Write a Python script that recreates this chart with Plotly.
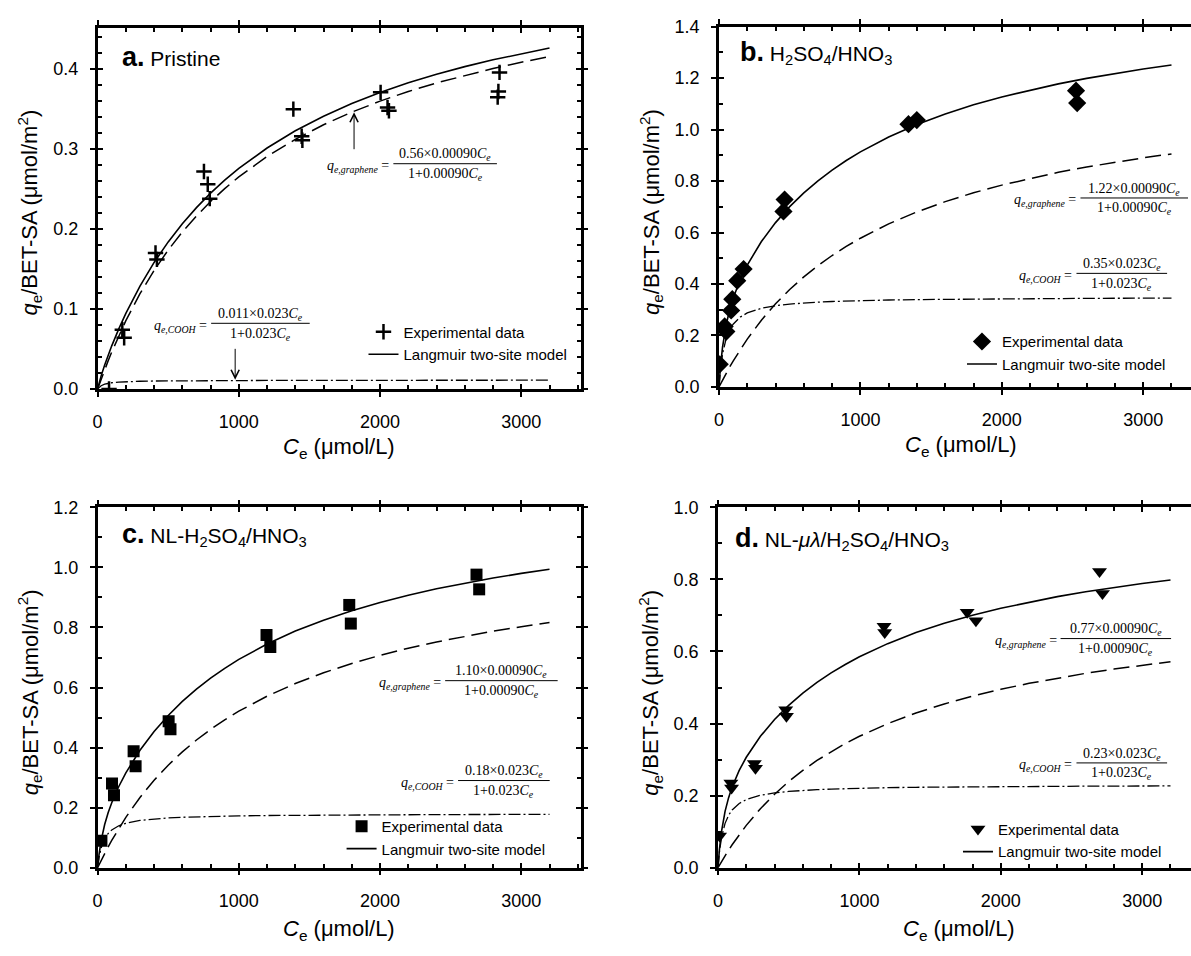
import plotly.graph_objects as go

# ---------------- data ----------------
conc_model = [0, 5, 10, 25, 50, 75, 100, 150, 200, 300, 400, 500, 600, 700, 800, 900, 1000, 1200, 1400, 1600, 1800, 2000, 2200, 2400, 2600, 2800, 3000, 3200]

a_graphene = [0, 0.0025, 0.0050, 0.0123, 0.0241, 0.0354, 0.0462, 0.0666, 0.0854, 0.1191, 0.1482, 0.1738, 0.1964, 0.2164, 0.2344, 0.2506, 0.2653, 0.2908, 0.3122, 0.3305, 0.3463, 0.3600, 0.3721, 0.3828, 0.3923, 0.4009, 0.4087, 0.4157]
a_cooh = [0, 0.0011, 0.0021, 0.0040, 0.0059, 0.0070, 0.0077, 0.0085, 0.0090, 0.0096, 0.0099, 0.0101, 0.0103, 0.0104, 0.0104, 0.0105, 0.0105, 0.0106, 0.0107, 0.0107, 0.0107, 0.0108, 0.0108, 0.0108, 0.0108, 0.0108, 0.0108, 0.0109]
a_total = [0, 0.0036, 0.0071, 0.0163, 0.0300, 0.0424, 0.0539, 0.0751, 0.0945, 0.1287, 0.1582, 0.1839, 0.2066, 0.2268, 0.2449, 0.2611, 0.2758, 0.3014, 0.3229, 0.3412, 0.3570, 0.3708, 0.3829, 0.3936, 0.4032, 0.4117, 0.4195, 0.4265]

b_graphene = [0, 0.0055, 0.0109, 0.0268, 0.0525, 0.0771, 0.1007, 0.1451, 0.1861, 0.2594, 0.3230, 0.3786, 0.4278, 0.4715, 0.5107, 0.5460, 0.5779, 0.6335, 0.6802, 0.7200, 0.7544, 0.7843, 0.8106, 0.8339, 0.8547, 0.8734, 0.8903, 0.9056]
b_cooh = [0, 0.0361, 0.0655, 0.1278, 0.1872, 0.2216, 0.2439, 0.2714, 0.2875, 0.3057, 0.3157, 0.3220, 0.3264, 0.3295, 0.3320, 0.3339, 0.3354, 0.3378, 0.3395, 0.3407, 0.3418, 0.3426, 0.3432, 0.3438, 0.3442, 0.3446, 0.3450, 0.3453]
b_total = [0, 0.0416, 0.0763, 0.1546, 0.2397, 0.2987, 0.3447, 0.4165, 0.4736, 0.5651, 0.6386, 0.7006, 0.7541, 0.8010, 0.8427, 0.8799, 0.9133, 0.9712, 1.0196, 1.0607, 1.0961, 1.1269, 1.1538, 1.1777, 1.1990, 1.2180, 1.2353, 1.2509]

c_graphene = [0, 0.0049, 0.0098, 0.0242, 0.0474, 0.0696, 0.0908, 0.1308, 0.1678, 0.2339, 0.2912, 0.3414, 0.3857, 0.4252, 0.4605, 0.4923, 0.5211, 0.5712, 0.6133, 0.6492, 0.6802, 0.7071, 0.7309, 0.7519, 0.7707, 0.7875, 0.8027, 0.8165]
c_cooh = [0, 0.0186, 0.0337, 0.0657, 0.0963, 0.1140, 0.1255, 0.1396, 0.1479, 0.1572, 0.1624, 0.1656, 0.1678, 0.1695, 0.1707, 0.1717, 0.1725, 0.1737, 0.1746, 0.1752, 0.1758, 0.1762, 0.1765, 0.1768, 0.1770, 0.1772, 0.1774, 0.1776]
c_total = [0, 0.0235, 0.0435, 0.0899, 0.1437, 0.1835, 0.2163, 0.2704, 0.3157, 0.3911, 0.4535, 0.5070, 0.5536, 0.5947, 0.6312, 0.6640, 0.6936, 0.7449, 0.7879, 0.8244, 0.8559, 0.8833, 0.9074, 0.9287, 0.9477, 0.9647, 0.9801, 0.9941]

d_graphene = [0, 0.0035, 0.0069, 0.0169, 0.0332, 0.0487, 0.0636, 0.0916, 0.1175, 0.1637, 0.2038, 0.2390, 0.2700, 0.2976, 0.3223, 0.3446, 0.3647, 0.3998, 0.4293, 0.4544, 0.4761, 0.4950, 0.5116, 0.5263, 0.5395, 0.5512, 0.5619, 0.5716]
d_cooh = [0, 0.0237, 0.0430, 0.0840, 0.1230, 0.1456, 0.1603, 0.1783, 0.1889, 0.2009, 0.2075, 0.2116, 0.2145, 0.2165, 0.2181, 0.2194, 0.2204, 0.2220, 0.2231, 0.2239, 0.2246, 0.2251, 0.2255, 0.2259, 0.2262, 0.2265, 0.2267, 0.2269]
d_total = [0, 0.0272, 0.0499, 0.1009, 0.1562, 0.1943, 0.2239, 0.2699, 0.3064, 0.3646, 0.4113, 0.4506, 0.4845, 0.5141, 0.5405, 0.5640, 0.5852, 0.6218, 0.6524, 0.6783, 0.7007, 0.7201, 0.7372, 0.7522, 0.7657, 0.7777, 0.7886, 0.7985]

a_x = [81, 175, 188, 410, 420, 753, 780, 794, 1386, 1445, 1450, 2004, 2053, 2063, 2846, 2838, 2833]
a_y = [0.0, 0.074, 0.064, 0.170, 0.162, 0.272, 0.256, 0.238, 0.350, 0.316, 0.311, 0.371, 0.352, 0.348, 0.396, 0.372, 0.365]

b_x = [5, 40, 52, 86, 94, 129, 174, 456, 464, 1340, 1399, 2525, 2533]
b_y = [0.088, 0.235, 0.215, 0.297, 0.341, 0.413, 0.458, 0.682, 0.728, 1.021, 1.037, 1.151, 1.103]

c_x = [27, 102, 116, 255, 269, 503, 516, 1196, 1223, 1782, 1793, 2683, 2702]
c_y = [0.090, 0.280, 0.241, 0.388, 0.338, 0.488, 0.461, 0.775, 0.735, 0.875, 0.813, 0.976, 0.927]

d_x = [11, 91, 96, 257, 265, 479, 484, 1174, 1179, 1762, 1824, 2698, 2719]
d_y = [0.088, 0.235, 0.221, 0.289, 0.276, 0.438, 0.420, 0.670, 0.653, 0.709, 0.685, 0.822, 0.761]

panel_titles = [
    "<span style='font-size:27px'><b>a.</b></span> Pristine",
    "<span style='font-size:27px'><b>b.</b></span> H<sub>2</sub>SO<sub>4</sub>/HNO<sub>3</sub>",
    "<span style='font-size:27px'><b>c.</b></span> NL-H<sub>2</sub>SO<sub>4</sub>/HNO<sub>3</sub>",
    "<span style='font-size:27px'><b>d.</b></span> NL-<i>μλ</i>/H<sub>2</sub>SO<sub>4</sub>/HNO<sub>3</sub>",
]
graphene_num = ["0.56×0.00090", "1.22×0.00090", "1.10×0.00090", "0.77×0.00090"]
cooh_num = ["0.011×0.023", "0.35×0.023", "0.18×0.023", "0.23×0.023"]
legend_names = ["Experimental data", "Langmuir two-site model"]
x_title = "<i>C</i><sub>e</sub> (μmol/L)"
y_title = "<i>q</i><sub>e</sub>/BET-SA (μmol/m<sup>2</sup>)"

# ---------------- layout geometry (pixels) ----------------
W, H = 1191, 956
def px(x): return x / W
def py(y): return 1 - y / H

SANS = "Liberation Sans, Arial, sans-serif"
SERIF = "Liberation Serif, Times New Roman, serif"

panels = [
    dict(x=a_x, y=a_y, tot=a_total, gr=a_graphene, co=a_cooh, sym="cross-thin", size=11,
         box=(93, 578, 18, 387), xr=3420, yr=0.452, ydt=0.1, ymin=0.02, mirror_y="ticks",
         title_pos=(115, 48), ytitle=(25, 207), xtitle=(335, 447), legend_pos=(360, 312),
         eq_g=(390, 494, 157), eq_c=(207, 306, 320)),
    dict(x=b_x, y=b_y, tot=b_total, gr=b_graphene, co=b_cooh, sym="diamond", size=14,
         box=(717, 1191, 17, 385), xr=3338, yr=1.4, ydt=0.2, ymin=0.1, mirror_y=False,
         title_pos=(736, 43), ytitle=(649, 206), xtitle=(960, 445), legend_pos=(961, 322),
         eq_g=(1080, 1188, 192), eq_c=(1076, 1167, 269)),
    dict(x=c_x, y=c_y, tot=c_total, gr=c_graphene, co=c_cooh, sym="square", size=12,
         box=(93, 578, 508, 876), xr=3420, yr=1.2, ydt=0.2, ymin=0.1, mirror_y="ticks",
         title_pos=(115, 536), ytitle=(25, 697), xtitle=(335, 940), legend_pos=(338, 817),
         eq_g=(442, 555, 685), eq_c=(455, 547, 787)),
    dict(x=d_x, y=d_y, tot=d_total, gr=d_graphene, co=d_cooh, sym="triangle-down", size=13,
         box=(716, 1191, 508, 876), xr=3345, yr=1.0, ydt=0.2, ymin=0.1, mirror_y=False,
         title_pos=(731, 540), ytitle=(648, 697), xtitle=(958, 940), legend_pos=(957, 820),
         eq_g=(1060, 1171, 642), eq_c=(1076, 1167, 769)),
]

fig = go.Figure()
annotations = []
shapes = []
layout = {}

for i, p in enumerate(panels, start=1):
    xa = "x" if i == 1 else f"x{i}"
    ya = "y" if i == 1 else f"y{i}"
    xo, yo = f"x{i+4}", f"y{i+4}"
    lg = "legend" if i == 1 else f"legend{i}"
    l, r, t, b = p["box"]

    # model curves
    fig.add_trace(go.Scatter(x=conc_model, y=p["gr"], mode="lines", xaxis=xa, yaxis=ya,
                             line=dict(color="black", width=1.5, dash="16px,7px"),
                             showlegend=False, hoverinfo="skip"))
    fig.add_trace(go.Scatter(x=conc_model, y=p["co"], mode="lines", xaxis=xa, yaxis=ya,
                             line=dict(color="black", width=1.3, dash="12px,3px,2px,3px"),
                             showlegend=False, hoverinfo="skip"))
    fig.add_trace(go.Scatter(x=p["x"], y=p["y"], mode="markers", xaxis=xa, yaxis=ya,
                             name=legend_names[0], legend=lg,
                             marker=dict(symbol=p["sym"], size=p["size"], color="black",
                                         line=dict(color="black", width=2.5 if p["sym"] == "cross-thin" else 0))))
    fig.add_trace(go.Scatter(x=conc_model, y=p["tot"], mode="lines", xaxis=xa, yaxis=ya,
                             name=legend_names[1], legend=lg,
                             line=dict(color="black", width=1.6)))
    # dummy trace for inner-tick overlay axes
    fig.add_trace(go.Scatter(x=[None], y=[None], xaxis=xo, yaxis=yo, showlegend=False,
                             hoverinfo="skip"))

    common = dict(showgrid=False, zeroline=False, color="black",
                  tickfont=dict(family=SANS, size=18, color="black"))
    layout["xaxis" if i == 1 else f"xaxis{i}"] = dict(
        domain=[px(l), px(r)], range=[0, p["xr"]], anchor=ya, dtick=1000, tick0=0,
        ticks="outside", ticklen=5, tickwidth=2, showline=True, linewidth=2.5,
        linecolor="black", mirror="ticks", ticklabelstandoff=10, **common)
    layout["yaxis" if i == 1 else f"yaxis{i}"] = dict(
        domain=[py(b), py(t)], range=[0, p["yr"]], anchor=xa, dtick=p["ydt"], tick0=0,
        tickformat=".1f", ticks="outside", ticklen=5, tickwidth=2, showline=True,
        linewidth=2.5, linecolor="black", mirror=p["mirror_y"], ticklabelstandoff=8, **common)
    layout[f"xaxis{i+4}"] = dict(
        overlaying=xa, anchor=yo, range=[0, p["xr"]], dtick=1000, tick0=0,
        ticks="inside", ticklen=5, tickwidth=2, showline=False, mirror="ticks",
        showticklabels=False, showgrid=False, zeroline=False,
        minor=dict(dtick=200, tick0=0, ticks="inside", ticklen=4, tickwidth=1.5,
                   tickcolor="black", showgrid=False), tickcolor="black")
    layout[f"yaxis{i+4}"] = dict(
        overlaying=ya, anchor=xo, range=[0, p["yr"]], dtick=p["ydt"], tick0=0,
        ticks="inside", ticklen=5, tickwidth=2, showline=False,
        mirror=("ticks" if p["mirror_y"] else False),
        showticklabels=False, showgrid=False, zeroline=False,
        minor=dict(dtick=p["ymin"], tick0=0, ticks="inside", ticklen=4, tickwidth=1.5,
                   tickcolor="black", showgrid=False), tickcolor="black")

    lx, ly = p["legend_pos"]
    layout[lg] = dict(x=px(lx), y=py(ly), xanchor="left", yanchor="top",
                      bgcolor="rgba(0,0,0,0)", borderwidth=0, itemwidth=30,
                      tracegroupgap=0, font=dict(family=SANS, size=15, color="black"))

    # panel title
    tx, ty = p["title_pos"]
    annotations.append(dict(text=panel_titles[i - 1], x=px(tx), y=py(ty), xref="paper", yref="paper",
                            xanchor="left", yanchor="middle", showarrow=False,
                            font=dict(family=SANS, size=21, color="black")))
    # axis titles
    yx, yy = p["ytitle"]
    annotations.append(dict(text=y_title, x=px(yx), y=py(yy), xref="paper", yref="paper",
                            xanchor="center", yanchor="middle", textangle=-90, showarrow=False,
                            font=dict(family=SANS, size=22, color="black")))
    xx, xy = p["xtitle"]
    annotations.append(dict(text=x_title, x=px(xx), y=py(xy), xref="paper", yref="paper",
                            xanchor="center", yanchor="middle", showarrow=False,
                            font=dict(family=SANS, size=22, color="black")))

    # equations
    for (x0, x1, yb), lab, num, den in [
        (p["eq_g"], "<i>q</i><sub><i>e,graphene</i></sub> =", graphene_num[i - 1] + "<i>C</i><sub><i>e</i></sub>",
         "1+0.00090<i>C</i><sub><i>e</i></sub>"),
        (p["eq_c"], "<i>q</i><sub><i>e,COOH</i></sub> =", cooh_num[i - 1] + "<i>C</i><sub><i>e</i></sub>",
         "1+0.023<i>C</i><sub><i>e</i></sub>"),
    ]:
        shapes.append(dict(type="line", xref="paper", yref="paper", x0=px(x0), x1=px(x1),
                           y0=py(yb), y1=py(yb), line=dict(color="black", width=1)))
        annotations.append(dict(text=num, x=px((x0 + x1) / 2), y=py(yb - 9), xref="paper", yref="paper",
                                xanchor="center", yanchor="middle", showarrow=False,
                                font=dict(family=SERIF, size=14, color="black")))
        annotations.append(dict(text=den, x=px((x0 + x1) / 2), y=py(yb + 11), xref="paper", yref="paper",
                                xanchor="center", yanchor="middle", showarrow=False,
                                font=dict(family=SERIF, size=14, color="black")))
        annotations.append(dict(text=lab, x=px(x0 - 2), y=py(yb + 3), xref="paper", yref="paper",
                                xanchor="right", yanchor="middle", showarrow=False,
                                font=dict(family=SERIF, size=14, color="black")))

# arrows in panel a
annotations.append(dict(x=1816, y=0.346, xref="x", yref="y", ax=1816, ay=0.298, axref="x", ayref="y",
                        text="", showarrow=True, arrowhead=5, arrowsize=1.6, arrowwidth=1, arrowcolor="black"))
annotations.append(dict(x=974, y=0.0115, xref="x", yref="y", ax=974, ay=0.052, axref="x", ayref="y",
                        text="", showarrow=True, arrowhead=5, arrowsize=1.6, arrowwidth=1, arrowcolor="black"))

fig.update_layout(**layout)
fig.update_layout(width=W, height=H, margin=dict(l=0, r=0, t=0, b=0),
                  paper_bgcolor="white", plot_bgcolor="white",
                  annotations=annotations, shapes=shapes,
                  font=dict(family=SANS, color="black"))

fig.write_html("out.html")
